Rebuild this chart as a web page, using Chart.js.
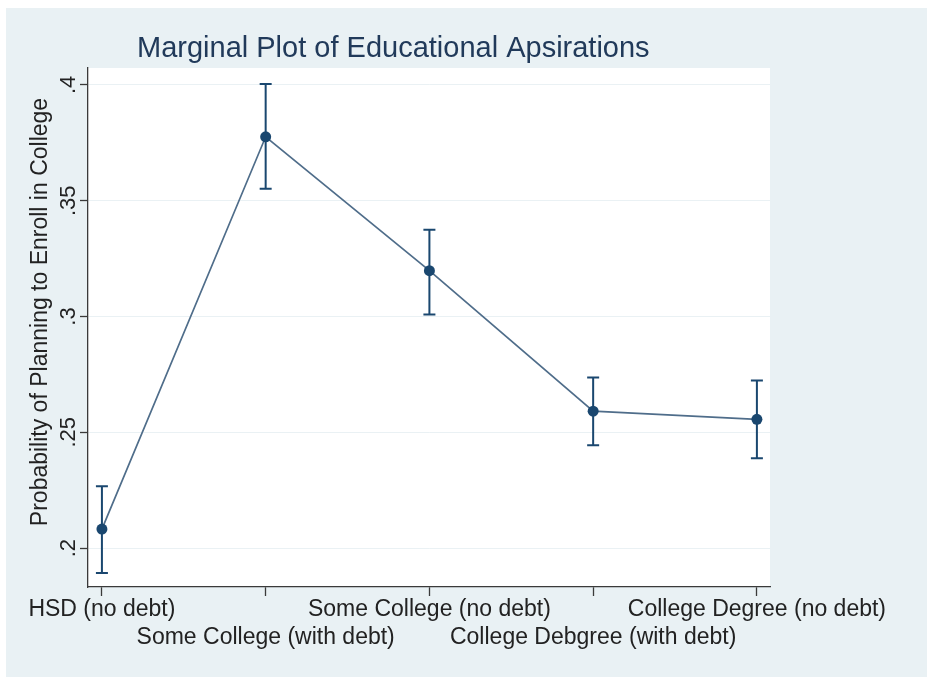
<!DOCTYPE html>
<html>
<head>
<meta charset="utf-8">
<title>Marginal Plot of Educational Apsirations</title>
<script src="https://cdn.jsdelivr.net/npm/chart.js@4"></script>
<style>
    html, body {
        margin: 0;
        padding: 0;
        background: #ffffff;
    }
    #wrap {
        width: 927px;
        height: 677px;
    }
</style>
</head>
<body>
<div id="wrap">
    <canvas id="marginsChart" width="927" height="677"></canvas>
</div>

<script>

/* ==========================================
        DATA
========================================== */

const categories = [
    "HSD (no debt)",
    "Some College (with debt)",
    "Some College (no debt)",
    "College Debgree (with debt)",
    "College Degree (no debt)"
];

const margins = [0.2082, 0.3776, 0.3198, 0.2591, 0.2556];

const ciLower = [0.1892, 0.3552, 0.3009, 0.2444, 0.2388];

const ciUpper = [0.2267, 0.4004, 0.3375, 0.2737, 0.2724];

const yTickValues = [0.2, 0.25, 0.3, 0.35, 0.4];

const yTickLabels = [".2", ".25", ".3", ".35", ".4"];

/* ==========================================
        STYLE
========================================== */

const FONT = "'Liberation Sans', Arial, sans-serif";
const NAVY = "#1a476f";
const LINE = "#4f6d8a";
const AXIS = "#3a3a3a";
const TEXT = "#222222";
const BACK = "#e9f1f4";

/* ==========================================
        BACKGROUND + TITLE
========================================== */

const framePlugin = {

    id: "frame",

    beforeDraw(chart) {

        const { ctx, chartArea } = chart;

        ctx.save();

        ctx.fillStyle = BACK;
        ctx.fillRect(6, 8, chart.width - 6, chart.height - 8);

        ctx.fillStyle = "#ffffff";
        ctx.fillRect(
            chartArea.left,
            chartArea.top,
            chartArea.right - chartArea.left,
            chartArea.bottom - chartArea.top
        );

        ctx.restore();

    },

    afterDraw(chart) {

        const { ctx, chartArea } = chart;
        const yScale = chart.scales.y;

        ctx.save();

        // chart title
        ctx.font = "29px " + FONT;
        ctx.fillStyle = "#213a5a";
        ctx.textAlign = "left";
        ctx.textBaseline = "alphabetic";
        ctx.fillText("Marginal Plot of Educational Apsirations", chartArea.left + 49, 57);

        // rotated y tick labels
        ctx.font = "22px " + FONT;
        ctx.fillStyle = TEXT;
        ctx.textAlign = "center";

        yTickValues.forEach((v, i) => {

            const y = yScale.getPixelForValue(v);

            ctx.save();
            ctx.translate(chartArea.left - 13, y);
            ctx.rotate(-Math.PI / 2);
            ctx.fillText(yTickLabels[i], 0, 0);
            ctx.restore();

        });

        // y axis title
        ctx.font = "23px " + FONT;
        ctx.save();
        ctx.translate(chartArea.left - 41, 312);
        ctx.rotate(-Math.PI / 2);
        ctx.fillText("Probability of Planning to Enroll in College", 0, 0);
        ctx.restore();

        ctx.restore();

    }

};

/* ==========================================
        ERROR BARS
========================================== */

const errorBarPlugin = {

    id: "errorBars",

    beforeDatasetsDraw(chart) {

        const { ctx } = chart;
        const xScale = chart.scales.x;
        const yScale = chart.scales.y;

        ctx.save();
        ctx.strokeStyle = NAVY;
        ctx.lineWidth = 2;

        categories.forEach((name, i) => {

            const x = xScale.getPixelForValue(i);
            const top = yScale.getPixelForValue(ciUpper[i]);
            const bottom = yScale.getPixelForValue(ciLower[i]);

            ctx.beginPath();
            ctx.moveTo(x, top);
            ctx.lineTo(x, bottom);
            ctx.moveTo(x - 6, top);
            ctx.lineTo(x + 6, top);
            ctx.moveTo(x - 6, bottom);
            ctx.lineTo(x + 6, bottom);
            ctx.stroke();

        });

        ctx.restore();

    }

};

/* ==========================================
        CHART
========================================== */

const ctx = document.getElementById("marginsChart").getContext("2d");

new Chart(ctx, {

    type: "line",

    data: {

        datasets: [
            {
                label: "Margins",
                data: margins.map((v, i) => ({ x: i, y: v })),
                borderColor: LINE,
                borderWidth: 1.7,
                pointRadius: 5.5,
                pointBackgroundColor: NAVY,
                pointBorderColor: NAVY,
                pointBorderWidth: 0,
                tension: 0
            }
        ]

    },

    options: {

        responsive: false,
        animation: false,
        events: [],

        layout: {
            padding: { left: 0, top: 68, right: 157, bottom: 0 }
        },

        plugins: {
            legend: { display: false },
            title: { display: false },
            tooltip: { enabled: false }
        },

        scales: {

            x: {
                type: "linear",
                min: -0.085,
                max: 4.08,
                afterFit(scale) {
                    scale.height = 90;
                },
                border: { color: AXIS, width: 1.3 },
                grid: {
                    drawOnChartArea: false,
                    tickColor: AXIS,
                    tickLength: 9,
                    tickWidth: 1.3
                },
                ticks: {
                    stepSize: 1,
                    includeBounds: false,
                    autoSkip: false,
                    maxRotation: 0,
                    minRotation: 0,
                    padding: 0,
                    color: TEXT,
                    font: { family: FONT, size: 23, lineHeight: 1.2 },
                    callback: function(value) {
                        const name = categories[value];
                        if (name === undefined) return "";
                        return value % 2 === 1 ? ["", name] : [name];
                    }
                }
            },

            y: {
                min: 0.1832,
                max: 0.4073,
                afterFit(scale) {
                    scale.width = 88;
                },
                afterBuildTicks(scale) {
                    scale.ticks = yTickValues.map(v => ({ value: v }));
                },
                border: { color: AXIS, width: 1.3 },
                grid: {
                    color: "#eaf1f4",
                    lineWidth: 1,
                    tickColor: AXIS,
                    tickLength: 8,
                    tickWidth: 1.3
                },
                ticks: {
                    display: false
                }
            }

        }

    },

    plugins: [framePlugin, errorBarPlugin]

});

</script>
</body>
</html>
